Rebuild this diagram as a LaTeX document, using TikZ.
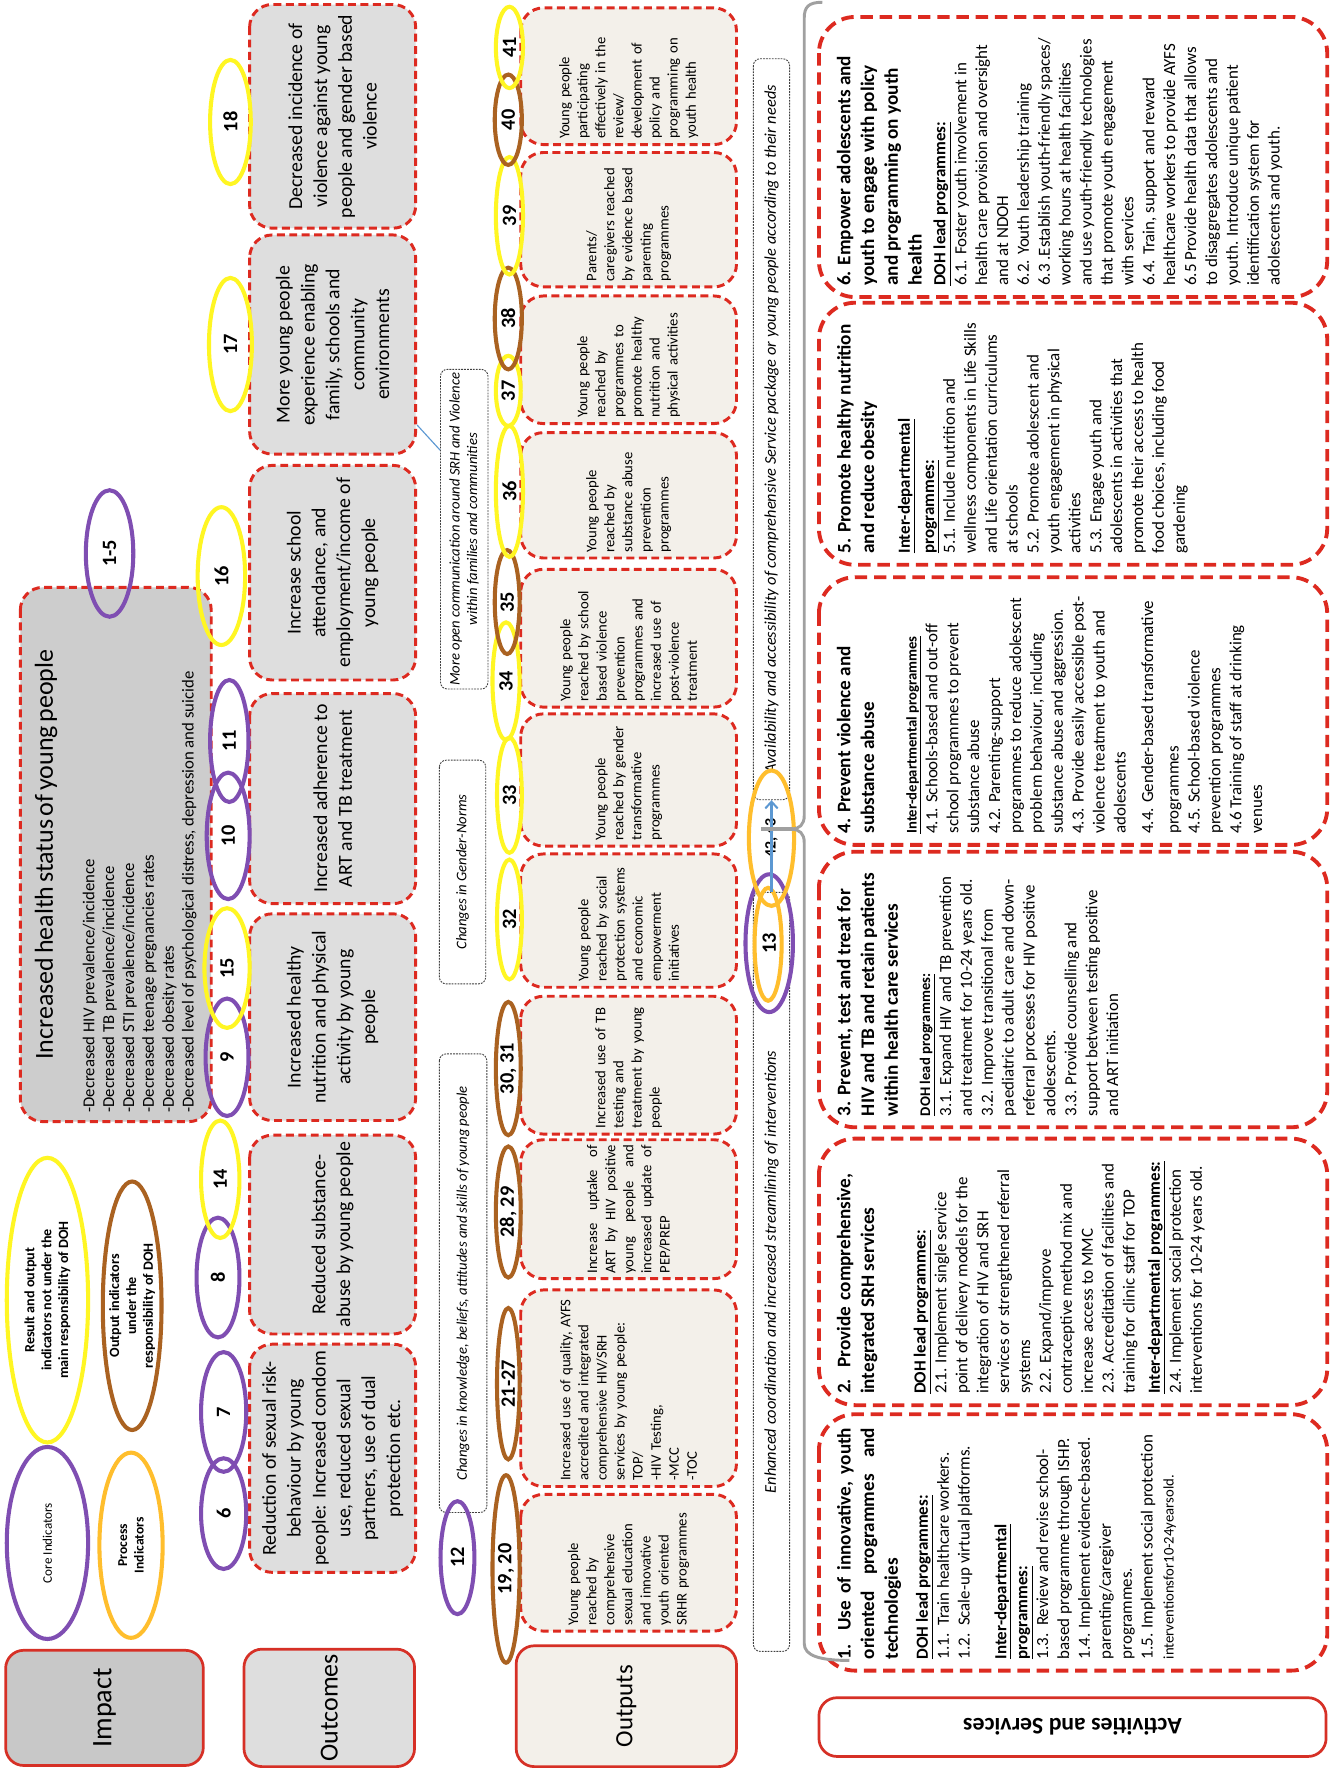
\documentclass[tikz,border=0pt]{standalone}
\usepackage{fontspec}
\setmainfont{Carlito}
\usetikzlibrary{shapes.geometric,arrows.meta}
\definecolor{dred}{RGB}{221,42,32}
\definecolor{hdred}{RGB}{214,48,38}
\definecolor{ipurple}{RGB}{127,78,178}
\definecolor{iyellow}{RGB}{255,246,35}
\definecolor{ibrown}{RGB}{170,98,33}
\definecolor{iorange}{RGB}{255,190,45}
\definecolor{impgray}{RGB}{200,200,200}
\definecolor{hgray}{RGB}{205,205,205}
\definecolor{ogray}{RGB}{222,222,222}
\definecolor{pbeige}{RGB}{243,240,234}
\definecolor{lblue}{RGB}{92,152,210}
\definecolor{bgray}{RGB}{160,160,160}
\begin{document}
\begin{tikzpicture}[x=1pt,y=-1pt,
  hdbox/.style={draw=hdred,line width=2.4pt,rounded corners=16pt,inner sep=0pt},
  dashbox/.style={draw=dred,line width=2.6pt,dash pattern=on 7pt off 4pt,rounded corners=20pt,rotate=90,inner sep=0pt},
  ocbox/.style={dashbox,fill=ogray,minimum height=147,align=center,font=\fontsize{17.5}{22}\selectfont},
  opbox/.style={dashbox,fill=pbeige,minimum height=191,align=left,font=\fontsize{13}{16}\selectfont},
  actbox/.style={draw=dred,line width=3.4pt,dash pattern=on 11pt off 6pt,rounded corners=32pt,fill=white,rotate=90,inner sep=0pt,minimum height=450},
  notebox/.style={draw=black!75,line width=0.8pt,dash pattern=on 1.6pt off 1pt,rounded corners=6pt,rotate=90,inner sep=0pt,align=center,font=\itshape\fontsize{13}{15.5}\selectfont},
  ind/.style={ellipse,line width=3.6pt,rotate=90,inner sep=0pt,font=\bfseries\fontsize{18}{18}\selectfont},
  coreind/.style={ind,draw=ipurple},
  resind/.style={ind,draw=iyellow},
  outind/.style={ind,draw=ibrown},
  procind/.style={ind,draw=iorange},
  linkline/.style={draw=lblue,line width=1pt},
  flowarrow/.style={draw=lblue,line width=1.8pt,-{Straight Barb[length=6pt,width=11pt]}},
  braceline/.style={draw=bgray,line width=2.6pt}]
\fill[white] (0,0) rectangle (1180,1567);
\useasboundingbox (0,0) rectangle (1180,1567);
\node[hdbox,rotate=90,fill=impgray,minimum width=102,minimum height=175,font=\fontsize{25}{28}\selectfont] (impact) at (92.5,1512) {Impact};
\node[hdbox,rotate=90,fill=ogray,minimum width=104,minimum height=151,font=\fontsize{23}{26}\selectfont] (outcomes) at (291.5,1512) {Outcomes};
\node[hdbox,rotate=90,fill=pbeige,minimum width=107,minimum height=195,font=\fontsize{22}{26}\selectfont] (outputs) at (554.5,1510.5) {Outputs};
\node[hdbox,rotate=180,fill=white,minimum width=449,minimum height=52,font=\bfseries\fontsize{21}{24}\selectfont] (activities) at (949.5,1529) {Activities and Services};
\node[coreind,minimum width=170,minimum height=72,font=\fontsize{11.6}{14}\selectfont] (lcore) at (42,1366) {Core Indicators};
\node[procind,minimum width=164,minimum height=56,align=center,font=\bfseries\fontsize{12}{14.5}\selectfont] (lproc) at (116,1368) {Process\\Indicators};
\node[resind,minimum width=252,minimum height=72,align=center,font=\bfseries\fontsize{12.5}{15}\selectfont] (lres) at (42,1151) {Result and output\\indicators not under the\\main responsibility of DOH};
\node[outind,minimum width=220,minimum height=52,inner sep=-3pt,align=center,font=\bfseries\fontsize{12.5}{15}\selectfont] (lout) at (117,1156) {Output indicators\\under the\\responsibility of DOH};
\node[dashbox,fill=hgray,minimum width=473,minimum height=169,text width=457,align=left] (health) at (102.5,756.5) {{\centering\fontsize{23}{27}\selectfont Increased health status of young people\par}\vspace{19pt}
{\fontsize{14.8}{17.6}\selectfont -Decreased HIV prevalence/incidence\\ -Decreased TB prevalence/incidence\\ -Decreased STI prevalence/incidence\\ -Decreased teenage pregnancies rates\\ -Decreased obesity rates\\ -Decreased level of psychological distress, depression and suicide\par}};
\node[ocbox,minimum width=202] (o1) at (294.5,1291) {Reduction of sexual risk-\\behaviour by young\\people: Increased condom\\use, reduced sexual\\partners, use of dual\\protection etc.};
\node[ocbox,minimum width=176] (o2) at (294.5,1093) {Reduced substance-\\abuse by young people};
\node[ocbox,minimum width=183] (o3) at (294.5,900.5) {Increased healthy\\nutrition and physical\\activity by young\\people};
\node[ocbox,minimum width=186] (o4) at (294.5,707) {Increased adherence to\\ART and TB treatment};
\node[ocbox,minimum width=190] (o5) at (294.5,507) {Increase school\\attendance, and\\employment/income of\\young people};
\node[ocbox,minimum width=194] (o6) at (294.5,305) {More young people\\experience enabling\\family, schools and\\community\\environments};
\node[ocbox,minimum width=198] (o7) at (294.5,103) {Decreased incidence of\\violence against young\\people and gender based\\violence};
\node[notebox,minimum width=406,minimum height=42] (n1) at (410,1136) {Changes in knowledge, beliefs, attitudes and skills of young people};
\node[notebox,minimum width=198,minimum height=41] (n2) at (409.5,772) {Changes in Gender-Norms};
\node[notebox,minimum width=283,minimum height=42] (n3) at (411,468.5) {More open communication around SRH and Violence\\within families and communities};
\node[opbox,minimum width=121,text width=111] (p1) at (556.5,1383.5) {Young people\\reached by\\comprehensive\\sexual education\\and innovative\\youth oriented\\SRHR programmes};
\node[opbox,minimum width=174,text width=164] (p2) at (556.5,1229) {Increased use of quality, AYFS\\accredited and integrated\\comprehensive HIV/SRH\\services by young people:\\TOP/\\-HIV Testing,\\-MCC\\-TOC};
\node[opbox,minimum width=123,text width=114,align=justify] (p3) at (556.5,1070.5) {Increase uptake of\linebreak ART by HIV positive\linebreak young people and\linebreak increased update of\linebreak PEP/PREP};
\node[opbox,minimum width=122,text width=112] (p4) at (556.5,943) {Increased use of TB\\testing and\\treatment by young\\people};
\node[opbox,minimum width=118,text width=108] (p5) at (556.5,815) {Young people\\reached by social\\protection systems\\and economic\\empowerment\\initiatives};
\node[opbox,minimum width=117,text width=107] (p6) at (556.5,690.5) {Young people\\reached by gender\\transformative\\programmes};
\node[opbox,minimum width=122,text width=112] (p7) at (556.5,565) {Young people\\reached by school\\based violence\\prevention\\programmes and\\increased use of\\post-violence\\treatment};
\node[opbox,minimum width=111,text width=101] (p8) at (556.5,438.5) {Young people\\reached by\\substance abuse\\prevention\\programmes};
\node[opbox,minimum width=113,text width=103] (p9) at (556.5,318.5) {Young people\\reached by\\programmes to\\promote healthy\\nutrition and\\physical activities};
\node[opbox,minimum width=119,text width=109] (p10) at (556.5,194.5) {Parents/\\caregivers reached\\by evidence based\\parenting\\programmes};
\node[opbox,minimum width=121,text width=111] (p11) at (556.5,67.5) {Young people\\participating\\effectively in the\\review/\\development of\\policy and\\programming on\\youth health};
\node[notebox,minimum width=672,minimum height=32,font=\itshape\fontsize{14.5}{17}\selectfont] (ie) at (683,1126) {Enhanced coordination and increased streamlining of interventions};
\node[notebox,minimum width=656,minimum height=32,font=\itshape\fontsize{14.5}{17}\selectfont] (iv) at (683,380) {Availability and accessibility of comprehensive Service package or young people according to their needs};
\node[actbox,minimum width=248] (act6) at (950,139) {\parbox[c][418pt][t]{228pt}{\raggedright
{\bfseries\fontsize{17}{21}\selectfont 6. Empower adolescents and\\ youth to engage with policy\\ and programming on youth\\ health\par}\vspace{2.5pt}
{\fontsize{15}{18.5}\selectfont\textbf{\underline{DOH lead programmes:}}\\
6.1. Foster youth involvement in\\ health care provision and oversight\\ and at NDOH\\
6.2. Youth leadership training\\
6.3 .Establish youth-friendly spaces/\\ working hours at health facilities\\ and use youth-friendly technologies\\ that promote youth engagement\\ with services\\
6.4. Train, support and reward\\ healthcare workers to provide AYFS\\
6.5 Provide health data that allows\\ to disaggregates adolescents and\\ youth. Introduce unique patient\\ identification system for\\ adolescents and youth.\par}}};
\node[actbox,minimum width=232] (act5) at (950,384) {\parbox[c][418pt][t]{212pt}{\raggedright
{\bfseries\fontsize{17}{21}\selectfont 5. Promote healthy nutrition\\ and reduce obesity\par}\vspace{13pt}
{\fontsize{15}{18.5}\selectfont\textbf{\underline{Inter-departmental}}\\[3pt]
\textbf{\underline{programmes:}}\\
5.1. Include nutrition and\\ wellness components in Life Skills\\ and Life orientation curriculums\\ at schools\\
5.2. Promote adolescent and\\ youth engagement in physical\\ activities\\
5.3. Engage youth and\\ adolescents in activities that\\ promote their access to health\\ food choices, including food\\ gardening\par}}};
\node[actbox,minimum width=237] (act4) at (950,629.5) {\parbox[c][418pt][t]{217pt}{\raggedright
{\bfseries\fontsize{17}{21}\selectfont 4. Prevent violence and\\ substance abuse\par}\vspace{19pt}
{\fontsize{15}{18.5}\selectfont{\fontsize{13}{18.5}\selectfont\textbf{\underline{Inter-departmental programmes}}}\\
4.1. Schools-based and out-off\\ school programmes to prevent\\ substance abuse\\
4.2. Parenting-support\\ programmes to reduce adolescent\\ problem behaviour, including\\ substance abuse and aggression.\\
4.3. Provide easily accessible post-\\ violence treatment to youth and\\ adolescents\\[6pt]
4.4. Gender-based transformative\\[4pt] programmes\\
4.5. School-based violence\\ prevention programmes\\
4.6 Training of staff at drinking\\ venues\par}}};
\node[actbox,minimum width=244] (act3) at (950,876) {\parbox[c][418pt][t]{224pt}{\raggedright
{\bfseries\fontsize{17}{21}\selectfont 3. Prevent, test and treat for\\ HIV and TB and retain patients\\ within health care services\par}\vspace{10pt}
{\fontsize{15}{18.5}\selectfont{\fontsize{13}{18.5}\selectfont\textbf{\underline{DOH lead programmes:}}}\\
3.1. Expand HIV and TB prevention\\ and treatment for 10-24 years old.\\
3.2. Improve transitional from\\ paediatric to adult care and down-\\ referral processes for HIV positive\\ adolescents.\\
3.3. Provide counselling and\\ support between testing positive\\ and ART initiation\par}}};
\node[actbox,minimum width=236] (act2) at (950,1126) {\parbox[c][418pt][t]{216pt}{\raggedright
{\bfseries\fontsize{17}{21}\selectfont \makebox[195pt][s]{2. Provide comprehensive,}\\ integrated SRH services\par}\vspace{27pt}
{\fontsize{15}{18.5}\selectfont\textbf{\underline{DOH lead programmes:}}\\
2.1. Implement single service\\ point of delivery models for the\\ integration of HIV and SRH\\ services or strengthened referral\\ systems\\
2.2. Expand/improve\\ contraceptive method mix and\\ increase access to MMC\\
2.3. Accreditation of facilities and\\ training for clinic staff for TOP\\[4pt]
\textbf{\underline{Inter-departmental programmes:}}\\
2.4. Implement social protection\\ interventions for 10-24 years old.\par}}};
\node[actbox,minimum width=227] (act1) at (950,1365.5) {\parbox[c][418pt][t]{207pt}{\raggedright
{\bfseries\fontsize{17}{21}\selectfont \makebox[205pt][s]{1. Use of innovative, youth}\\ \makebox[205pt][s]{oriented programmes and}\\ technologies\par}\vspace{8pt}
{\fontsize{15}{18.5}\selectfont\textbf{\underline{DOH lead programmes:}}\\
1.1.\ \ Train healthcare workers.\\
1.2.\ \ Scale-up virtual platforms.\\[14pt]
\textbf{\underline{Inter-departmental}}\\
\textbf{\underline{programmes:}}\\
1.3.\ \ Review and revise school-\\ based programme through ISHP.\\
1.4. Implement evidence-based.\\ parenting/caregiver\\ programmes.\\
1.5. Implement social protection\\ {\fontsize{13}{18.5}\selectfont interventionsfor10-24yearsold.}\par}}};
\node[coreind,minimum width=112,minimum height=42] (i1to5) at (97,490) {1-5};
\node[coreind,minimum width=98,minimum height=40] (i6) at (198,1340) {6};
\node[coreind,minimum width=106,minimum height=40] (i7) at (198,1250) {7};
\node[coreind,minimum width=106,minimum height=38] (i8) at (193,1131) {8};
\node[resind,minimum width=104,minimum height=34] (i14) at (195,1044) {14};
\node[coreind,minimum width=104,minimum height=38] (i9) at (201,936) {9};
\node[resind,minimum width=106,minimum height=40] (i15) at (201,857) {15};
\node[coreind,minimum width=112,minimum height=38] (i10) at (202,740) {10};
\node[coreind,minimum width=108,minimum height=34] (i11) at (203,656) {11};
\node[resind,minimum width=122,minimum height=42] (i16) at (196,510) {16};
\node[resind,minimum width=118,minimum height=38] (i17) at (204,305) {17};
\node[resind,minimum width=110,minimum height=36] (i18) at (204,108) {18};
\node[coreind,minimum width=100,minimum height=30] (i12) at (405,1379) {12};
\node[outind,minimum width=166,minimum height=24] (i19) at (448,1389) {19, 20};
\node[outind,minimum width=134,minimum height=20] (i21) at (450,1225) {21-27};
\node[outind,minimum width=116,minimum height=22] (i28) at (450,1073) {28, 29};
\node[outind,minimum width=118,minimum height=22] (i30) at (450,946) {30, 31};
\node[resind,minimum width=106,minimum height=22] (i32) at (451,814) {32};
\node[resind,minimum width=102,minimum height=22] (i33) at (451,704) {33};
\node[resind,minimum width=104,minimum height=24] (i34) at (448,603) {34};
\node[outind,minimum width=92,minimum height=22] (i35) at (449,533) {35};
\node[resind,minimum width=116,minimum height=24] (i36) at (451,435) {36};
\node[resind,minimum width=62,minimum height=22] (i37) at (450,346) {37};
\node[outind,minimum width=90,minimum height=24] (i38) at (450,282) {38};
\node[resind,minimum width=104,minimum height=24] (i39) at (451,191) {39};
\node[outind,minimum width=80,minimum height=24] (i40) at (450,106) {40};
\node[resind,minimum width=72,minimum height=24] (i41) at (451,42) {41};
\node[coreind,minimum width=122,minimum height=42] (i13) at (681,835) {13};
\node[procind,minimum width=100,minimum height=24] (i13b) at (680,836) {};
\node[procind,minimum width=120,minimum height=40,font=\bfseries\fontsize{14}{14}\selectfont] (i42) at (683,742) {42, 43};
\draw[linkline] ([yshift=27pt]o6.south west) -- ([yshift=70pt]n3.north);
\draw[flowarrow] (ie.east) -- (iv.west);
\draw[braceline] (728,2) .. controls (716,2) and (712,6) .. (712,16) -- (712,722) .. controls (712,730) and (708,734) .. (700,734);
\draw[braceline] (752,1470) .. controls (726,1470) and (712,1466) .. (712,1455) -- (712,746) .. controls (712,738) and (708,734) .. (700,734);
\draw[braceline,line width=4pt] (702,734) -- (674,734);
\end{tikzpicture}
\end{document}
